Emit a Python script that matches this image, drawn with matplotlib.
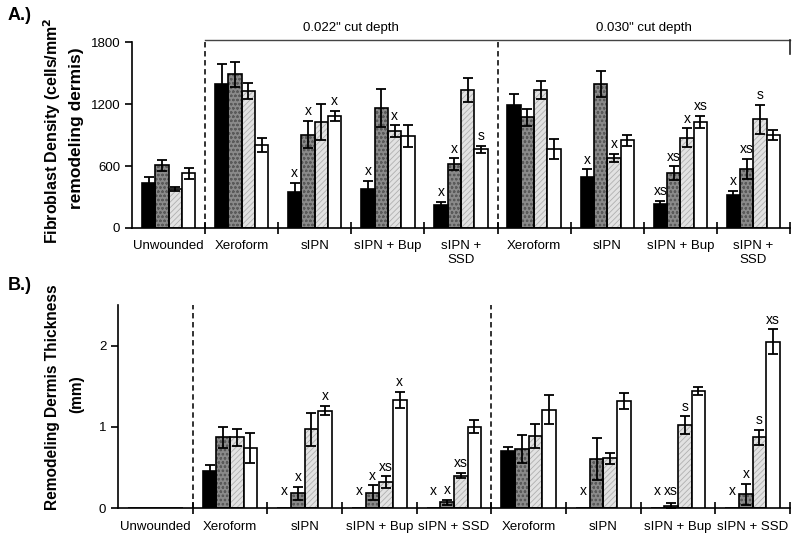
import matplotlib
matplotlib.use("Agg")
import matplotlib.pyplot as plt
import numpy as np

plt.rcParams['font.family'] = ['Liberation Sans', 'DejaVu Sans']
plt.rcParams['hatch.linewidth'] = 0.6

# ---------------- data ----------------
groups_A = ["Unwounded", "Xeroform", "sIPN", "sIPN + Bup", "sIPN +\nSSD",
            "Xeroform", "sIPN", "sIPN + Bup", "sIPN +\nSSD"]
groups_B = ["Unwounded", "Xeroform", "sIPN", "sIPN + Bup", "sIPN + SSD",
            "Xeroform", "sIPN", "sIPN + Bup", "sIPN + SSD"]
depth_labels = ['0.022" cut depth', '0.030" cut depth']

black_A = [438, 1397, 353, 377, 220, 1187, 497, 232, 316]
black_A_err = [58, 195, 85, 80, 35, 113, 70, 32, 45]
dark_A = [606, 1487, 905, 1158, 619, 1071, 1394, 532, 571]
dark_A_err = [55, 120, 130, 185, 55, 80, 130, 65, 97]
light_A = [380, 1329, 1030, 936, 1338, 1338, 677, 874, 1052]
light_A_err = [20, 78, 175, 58, 115, 87, 38, 91, 138]
white_A = [529, 803, 1084, 893, 761, 765, 848, 1029, 900]
white_A_err = [52, 68, 48, 105, 35, 93, 52, 58, 45]

black_A_lab = ["", "", "x", "x", "x", "", "x", "xs", "x"]
dark_A_lab = ["", "", "x", "", "x", "", "", "xs", "xs"]
light_A_lab = ["", "", "", "x", "", "", "x", "x", "s"]
white_A_lab = ["", "", "x", "", "s", "", "", "xs", ""]

black_B = [0, 0.45, 0, 0, 0, 0.70, 0, 0, 0]
black_B_err = [0, 0.08, 0, 0, 0, 0.05, 0, 0, 0]
dark_B = [0, 0.87, 0.18, 0.19, 0.07, 0.73, 0.60, 0.03, 0.17]
dark_B_err = [0, 0.13, 0.08, 0.09, 0.03, 0.17, 0.26, 0.03, 0.13]
light_B = [0, 0.87, 0.97, 0.32, 0.40, 0.89, 0.61, 1.02, 0.87]
light_B_err = [0, 0.10, 0.20, 0.07, 0.03, 0.15, 0.07, 0.11, 0.09]
white_B = [0, 0.74, 1.20, 1.33, 1.00, 1.21, 1.32, 1.44, 2.05]
white_B_err = [0, 0.19, 0.06, 0.10, 0.08, 0.18, 0.10, 0.05, 0.15]

black_B_lab = ["", "", "x", "x", "x", "", "x", "x", "x"]
dark_B_lab = ["", "", "x", "x", "x", "", "", "xs", "x"]
light_B_lab = ["", "", "", "xs", "xs", "", "", "s", "s"]
white_B_lab = ["", "", "x", "x", "", "", "", "", "xs"]

# ---------------- styling ----------------
styles = [
    dict(face="#000000", hatch=None, hcol="#000000"),
    dict(face="#8a8a8a", hatch="oooo", hcol="#5a5a5a"),
    dict(face="#e2e2e2", hatch="//////", hcol="#b0b0b0"),
    dict(face="#ffffff", hatch=None, hcol="#ffffff"),
]
bw = 0.182


def draw_panel(ax, series, errs, labels, ymax, label_floor):
    x0 = np.arange(9) + 0.5
    for k, (vals, err, lab, st) in enumerate(zip(series, errs, labels, styles)):
        xs = x0 + (k - 1.5) * bw
        vals = np.array(vals, float)
        err = np.array(err, float)
        if st["hatch"]:
            ax.bar(xs, vals, bw, color=st["face"], edgecolor=st["hcol"],
                   hatch=st["hatch"], linewidth=0, zorder=2)
            ax.bar(xs, vals, bw, facecolor="none", edgecolor="black",
                   linewidth=1.2, zorder=3)
        else:
            ax.bar(xs, vals, bw, color=st["face"], edgecolor="black",
                   linewidth=1.2, zorder=3)
        m = err > 0
        ax.errorbar(xs[m], vals[m], yerr=err[m], fmt="none", ecolor="black",
                    elinewidth=1.3, capsize=3.4, capthick=1.3, zorder=4)
        for xi, v, e, t in zip(xs, vals, err, lab):
            if t:
                base = max(v + e, label_floor)
                ax.annotate(t, (xi, base), xytext=(0, 2), textcoords="offset points",
                            ha="center", va="bottom", fontsize=10, zorder=5)
    ax.set_xlim(0, 9)
    ax.set_ylim(0, ymax)
    for s in ["top", "right"]:
        ax.spines[s].set_visible(False)
    ax.spines["left"].set_linewidth(1.2)
    ax.spines["bottom"].set_linewidth(1.2)
    ax.set_xticks(np.arange(1, 10))
    ax.tick_params(axis="x", which="major", direction="inout", length=9,
                   width=1.2, labelbottom=False)
    ax.set_xticks(x0, minor=True)
    ax.tick_params(axis="x", which="minor", length=0, labelsize=9.5, pad=9)
    ax.tick_params(axis="y", direction="out", length=5, width=1.2, labelsize=9.5)


W, H = 800, 539
fig = plt.figure(figsize=(8, 5.39), dpi=100)

# Panel A
axA = fig.add_axes([0.165, 0.577, 0.8225, 0.345])
draw_panel(axA, [black_A, dark_A, light_A, white_A],
           [black_A_err, dark_A_err, light_A_err, white_A_err],
           [black_A_lab, dark_A_lab, light_A_lab, white_A_lab], 1800, 0)
axA.set_xticklabels(groups_A, minor=True)
axA.set_yticks([0, 600, 1200, 1800])
fig.text(52 / W, 1 - 131 / H, "Fibroblast Density (cells/mm$^\\mathbf{2}$",
         rotation=90, ha="center", va="center", fontsize=11.5, fontweight="bold")
fig.text(77 / W, 1 - 128 / H, "remodeling dermis)",
         rotation=90, ha="center", va="center", fontsize=12.5, fontweight="bold")
bracket_y = 1820
for xd in [1, 5]:
    axA.plot([xd, xd], [0, bracket_y], ls=(0, (3, 2)), color="#222222", lw=1.3,
             clip_on=False, zorder=1)
axA.plot([1, 9], [bracket_y, bracket_y], color="#444444", lw=1.0, clip_on=False)
axA.plot([9, 9], [bracket_y, 1680], color="#222222", lw=1.2, clip_on=False)
axA.text(3, 1940, depth_labels[0], ha="center", va="center", fontsize=9.5)
axA.text(7, 1940, depth_labels[1], ha="center", va="center", fontsize=9.5)

# Panel B
axB = fig.add_axes([0.1475, 0.0575, 0.84, 0.3765])
draw_panel(axB, [black_B, dark_B, light_B, white_B],
           [black_B_err, dark_B_err, light_B_err, white_B_err],
           [black_B_lab, dark_B_lab, light_B_lab, white_B_lab], 2.5, 0.09)
axB.set_xticklabels(groups_B, minor=True)
axB.set_yticks([0, 1, 2])
fig.text(53 / W, 1 - 397 / H, "Remodeling Dermis Thickness",
         rotation=90, ha="center", va="center", fontsize=11.2, fontweight="bold")
fig.text(77 / W, 1 - 394 / H, "(mm)",
         rotation=90, ha="center", va="center", fontsize=11.2, fontweight="bold")
for xd in [1, 5]:
    axB.plot([xd, xd], [0, 2.5], ls=(0, (3, 2)), color="#222222", lw=1.3,
             clip_on=False, zorder=1)

fig.text(0.01, 0.972, "A.)", fontsize=13, fontweight="bold", va="center")
fig.text(0.01, 0.47, "B.)", fontsize=13, fontweight="bold", va="center")

fig.savefig("out.png", dpi=100)
